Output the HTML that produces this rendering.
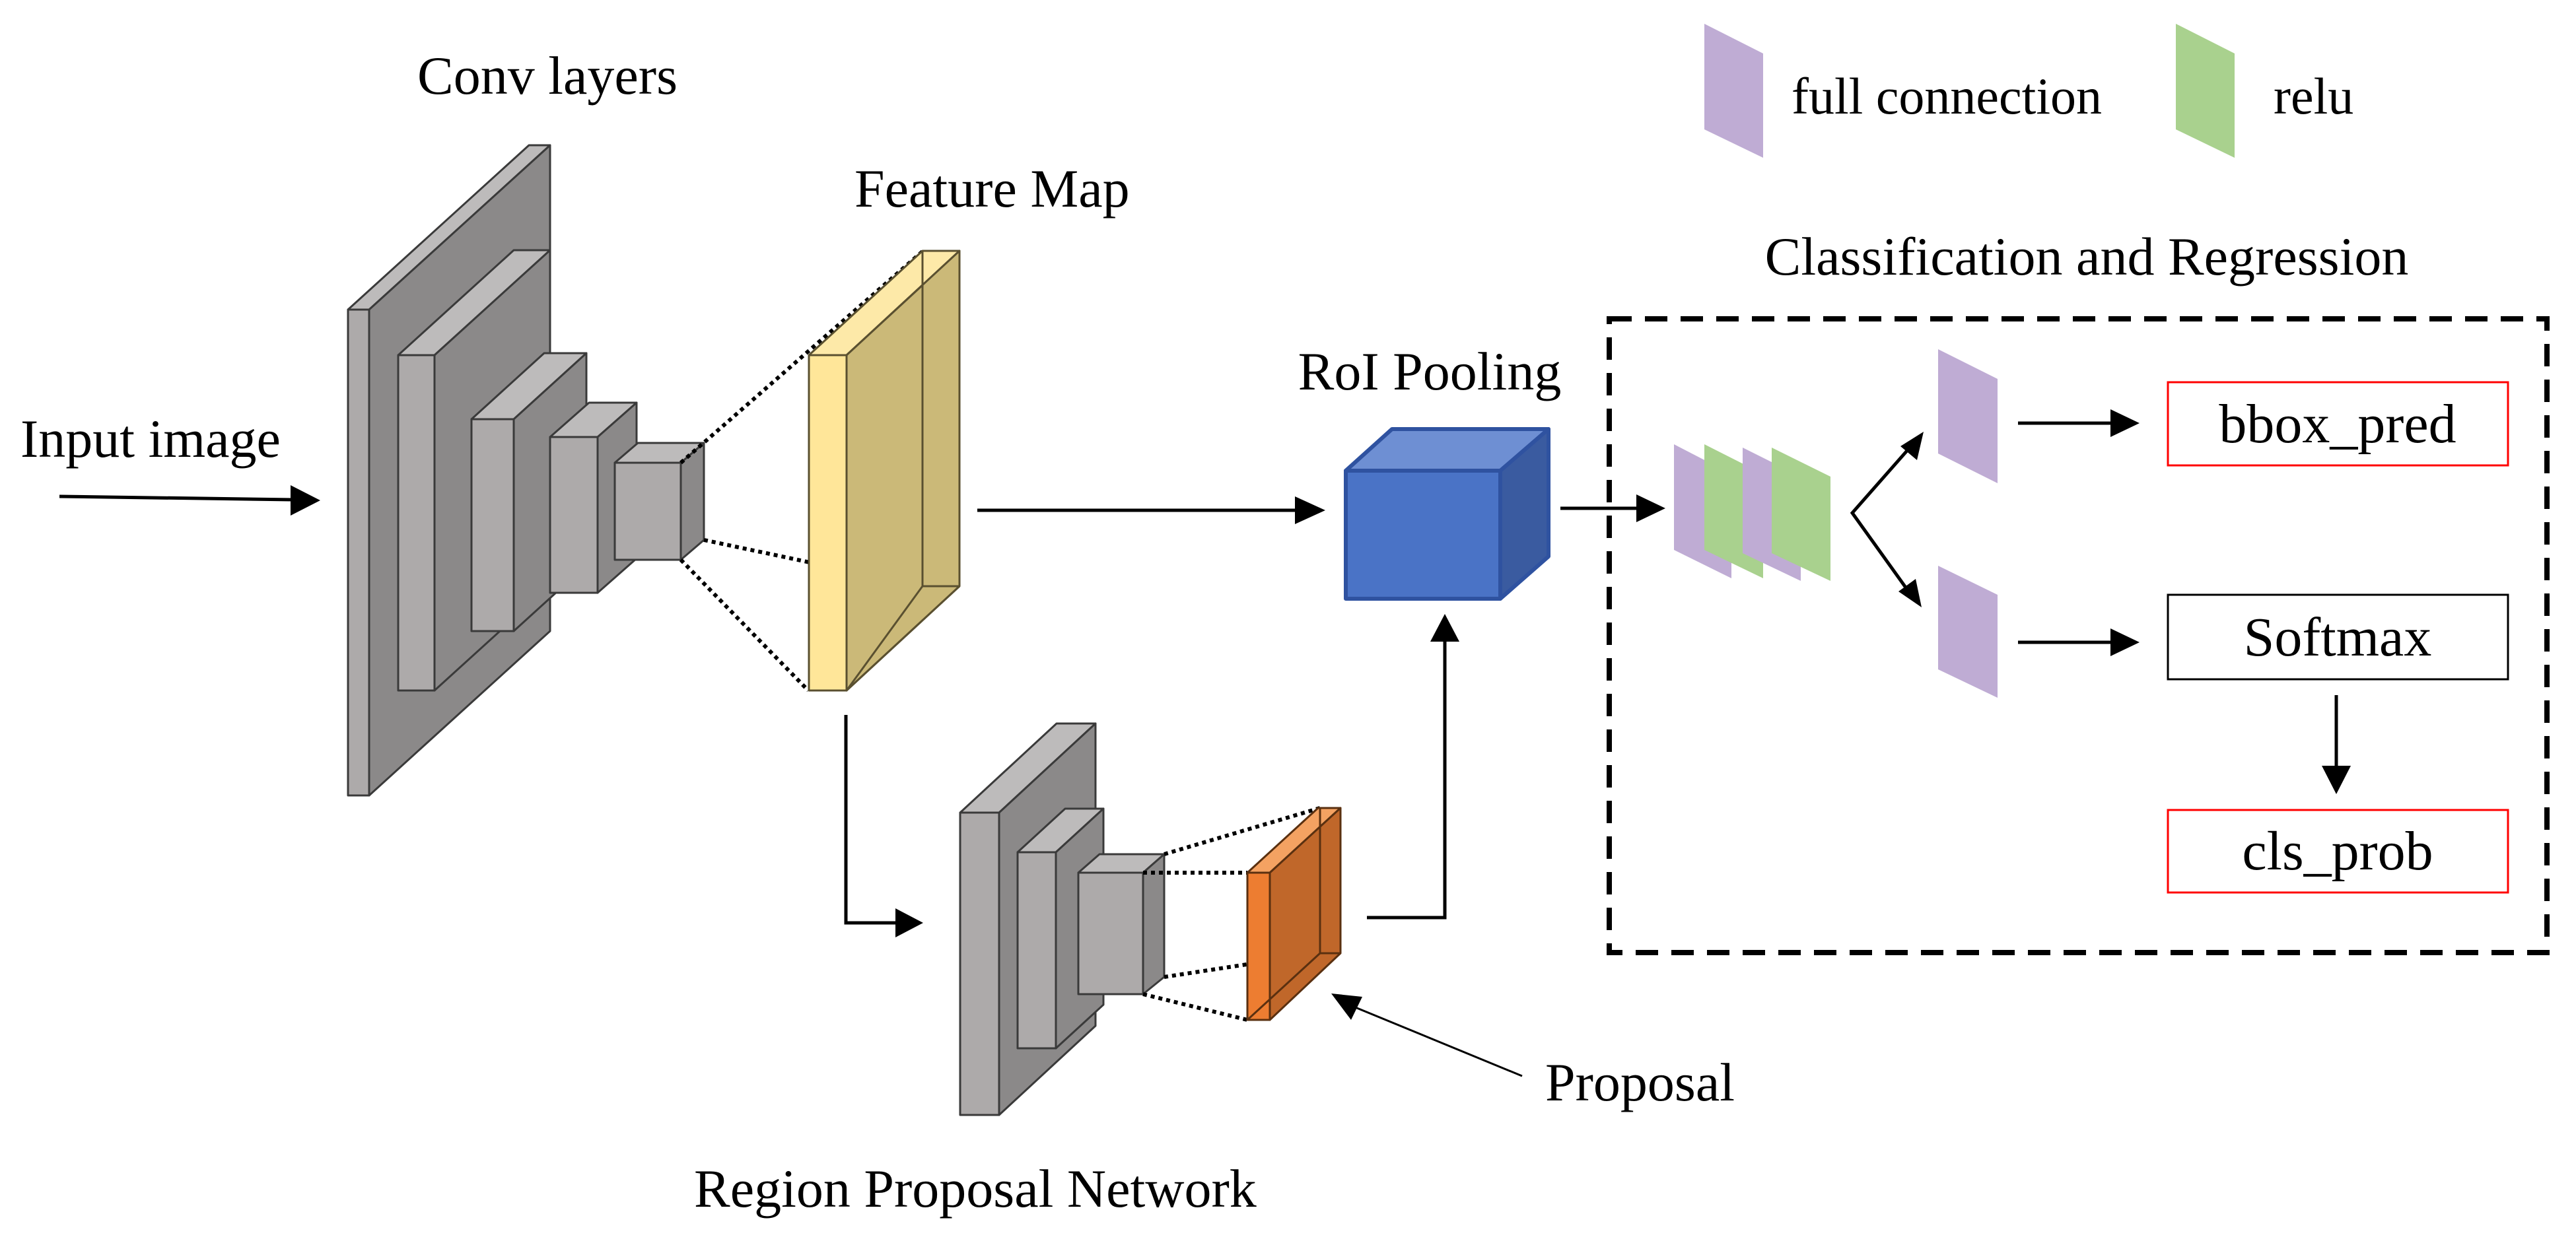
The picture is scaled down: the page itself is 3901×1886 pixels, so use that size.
<!DOCTYPE html>
<html><head><meta charset="utf-8"><style>
html,body{margin:0;padding:0;background:#fff;}
svg{display:block;}
</style></head><body>
<svg width="3901" height="1886" viewBox="0 0 3901 1886" xmlns="http://www.w3.org/2000/svg">
<g stroke="#3a3a3a" stroke-width="3" stroke-linejoin="round">
<polygon points="527,469 801,220 833,220 559,469" fill="#bdbbbb"/>
<polygon points="559,469 833,220 833,956 559,1205" fill="#8b8989"/>
<rect x="527" y="469" width="32" height="736" fill="#adaaaa"/>
<polygon points="603,538 778,379 833,379 658,538" fill="#bdbbbb"/>
<polygon points="658,538 833,379 833,887 658,1046" fill="#8b8989"/>
<rect x="603" y="538" width="55" height="508" fill="#adaaaa"/>
<polygon points="714,635 824,535 888,535 778,635" fill="#bdbbbb"/>
<polygon points="778,635 888,535 888,856 778,956" fill="#8b8989"/>
<rect x="714" y="635" width="64" height="321" fill="#adaaaa"/>
<polygon points="833,662 892,610 964,610 905,662" fill="#bdbbbb"/>
<polygon points="905,662 964,610 964,846 905,898" fill="#8b8989"/>
<rect x="833" y="662" width="72" height="236" fill="#adaaaa"/>
<polygon points="931,701 966,671 1066,671 1031,701" fill="#bdbbbb"/>
<polygon points="1031,701 1066,671 1066,818 1031,848" fill="#8b8989"/>
<rect x="931" y="701" width="100" height="147" fill="#adaaaa"/>
</g>
<g stroke="#000" stroke-width="6" stroke-dasharray="6,6" fill="none">
<line x1="1031" y1="701" x2="1398" y2="380"/>
<line x1="1066" y1="818" x2="1397" y2="888"/>
<line x1="1031" y1="848" x2="1224" y2="1046"/>
</g>
<g stroke="#5a5030" stroke-width="3" stroke-linejoin="round">
<polygon points="1225,538 1397,380 1453,380 1282,538" fill="#fde9a8"/>
<polygon points="1282,538 1453,380 1453,888 1282,1046" fill="#cbb978"/>
<rect x="1225" y="538" width="57" height="508" fill="#ffe699"/>
<polygon points="1282,538 1397,432 1397,888 1282,1046" fill="#cbb978"/>
<line x1="1397" y1="380" x2="1397" y2="888" fill="none"/>
<line x1="1282" y1="1046" x2="1453" y2="888" fill="none"/>
<line x1="1397" y1="888" x2="1453" y2="888" fill="none"/>
</g>
<g stroke="#3a3a3a" stroke-width="3" stroke-linejoin="round">
<polygon points="1454,1231 1600,1096 1659,1096 1513,1231" fill="#bdbbbb"/>
<polygon points="1513,1231 1659,1096 1659,1554 1513,1689" fill="#8b8989"/>
<rect x="1454" y="1231" width="59" height="458" fill="#adaaaa"/>
<polygon points="1541,1291 1613,1225 1671,1225 1599,1291" fill="#bdbbbb"/>
<polygon points="1599,1291 1671,1225 1671,1522 1599,1588" fill="#8b8989"/>
<rect x="1541" y="1291" width="58" height="297" fill="#adaaaa"/>
<polygon points="1633,1322 1665,1294 1763,1294 1731,1322" fill="#bdbbbb"/>
<polygon points="1731,1322 1763,1294 1763,1480 1731,1506" fill="#8b8989"/>
<rect x="1633" y="1322" width="98" height="184" fill="#adaaaa"/>
</g>
<g stroke="#000" stroke-width="6" stroke-dasharray="6,6" fill="none">
<line x1="1731" y1="1322" x2="1889" y2="1322"/>
<line x1="1763" y1="1294" x2="1999" y2="1224"/>
<line x1="1763" y1="1480" x2="1999" y2="1444"/>
<line x1="1731" y1="1506" x2="1889" y2="1545"/>
</g>
<g stroke="#5a3010" stroke-width="3" stroke-linejoin="round">
<polygon points="1889,1322 1996,1224 2030,1224 1923,1322" fill="#f4a262"/>
<polygon points="1923,1322 2030,1224 2030,1444 1923,1545" fill="#c0672a"/>
<rect x="1889" y="1322" width="34" height="223" fill="#ed7d31"/>
<line x1="1999" y1="1224" x2="1999" y2="1444"/>
<line x1="1889" y1="1545" x2="1999" y2="1444"/>
<line x1="1999" y1="1444" x2="2030" y2="1444"/>
</g>
<g stroke="#2f52a0" stroke-width="6" stroke-linejoin="round">
<polygon points="2038,713 2108,650 2345,650 2272,713" fill="#6e8fd3"/>
<polygon points="2272,713 2345,650 2345,843 2272,907" fill="#3a5ba0"/>
<rect x="2038" y="713" width="234" height="194" fill="#4a73c6"/>
</g>
<g stroke="#000" stroke-width="5" fill="none">
<line x1="90" y1="752" x2="445" y2="757"/>
<polyline points="1281,1083 1281,1398 1360,1398"/>
<line x1="1480" y1="773" x2="1965" y2="773"/>
<polyline points="2070,1390 2188,1390 2188,970"/>
<line x1="2363" y1="770" x2="2480" y2="770"/>
<polyline points="2893,677 2805,777 2891,897"/>
<line x1="3056" y1="641" x2="3200" y2="641"/>
<line x1="3056" y1="973" x2="3200" y2="973"/>
<line x1="3538" y1="1053" x2="3538" y2="1165"/>
<line x1="2305" y1="1630" x2="2050" y2="1525" stroke-width="3"/>
</g>
<g fill="#000">
<polygon points="485,758 440,735 440,781"/>
<polygon points="1398,1398 1356,1376 1356,1420"/>
<polygon points="2007,773 1961,752 1961,794"/>
<polygon points="2188,930 2166,972 2210,972"/>
<polygon points="2522,770 2478,749 2478,791"/>
<polygon points="3240,641 3196,620 3196,662"/>
<polygon points="3240,973 3196,952 3196,994"/>
<polygon points="3538,1203 3516,1160 3560,1160"/>
<polygon points="2913,654 2903,697 2878,676"/>
<polygon points="2910,920 2875,896 2901,877"/>
<polygon points="2016,1505 2063,1510 2046,1545"/>
</g>
<rect x="2437" y="483" width="1420" height="960" fill="none" stroke="#000" stroke-width="8" stroke-dasharray="34,20"/>
<polygon points="2535,673 2622,718 2622,876 2535,833" fill="#bfacd4"/>
<polygon points="2581,673 2670,718 2670,876 2581,833" fill="#a9d18e"/>
<polygon points="2639,678 2727,722 2727,880 2639,838" fill="#bfacd4"/>
<polygon points="2683,678 2772,722 2772,880 2683,838" fill="#a9d18e"/>
<polygon points="2935,529 3025,574 3025,732 2935,687" fill="#bfacd4"/>
<polygon points="2935,857 3025,901 3025,1057 2935,1014" fill="#bfacd4"/>
<polygon points="2581,36 2670,81 2670,239 2581,196" fill="#bfacd4"/>
<polygon points="3295,36 3384,81 3384,239 3295,196" fill="#a9d18e"/>
<rect x="3283" y="579" width="515" height="126" fill="none" stroke="#ff0000" stroke-width="3"/>
<rect x="3283" y="901" width="515" height="128" fill="none" stroke="#000" stroke-width="3"/>
<rect x="3283" y="1227" width="515" height="125" fill="none" stroke="#ff0000" stroke-width="3"/>
<g font-family="'Liberation Serif', 'DejaVu Serif', serif" fill="#000">
<text x="829" y="142" font-size="82" text-anchor="middle">Conv layers</text>
<text x="31" y="692" font-size="82">Input image</text>
<text x="1294" y="313" font-size="82">Feature Map</text>
<text x="2165" y="590" font-size="82" text-anchor="middle">RoI Pooling</text>
<text x="1051" y="1828" font-size="82">Region Proposal Network</text>
<text x="2340" y="1667" font-size="82">Proposal</text>
<text x="2713" y="172" font-size="78">full connection</text>
<text x="3443" y="172" font-size="78">relu</text>
<text x="3160" y="416" font-size="82" text-anchor="middle">Classification and Regression</text>
<text x="3540" y="670" font-size="84" text-anchor="middle">bbox_pred</text>
<text x="3540" y="993" font-size="84" text-anchor="middle">Softmax</text>
<text x="3540" y="1317" font-size="84" text-anchor="middle">cls_prob</text>
</g>
</svg>
</body></html>
